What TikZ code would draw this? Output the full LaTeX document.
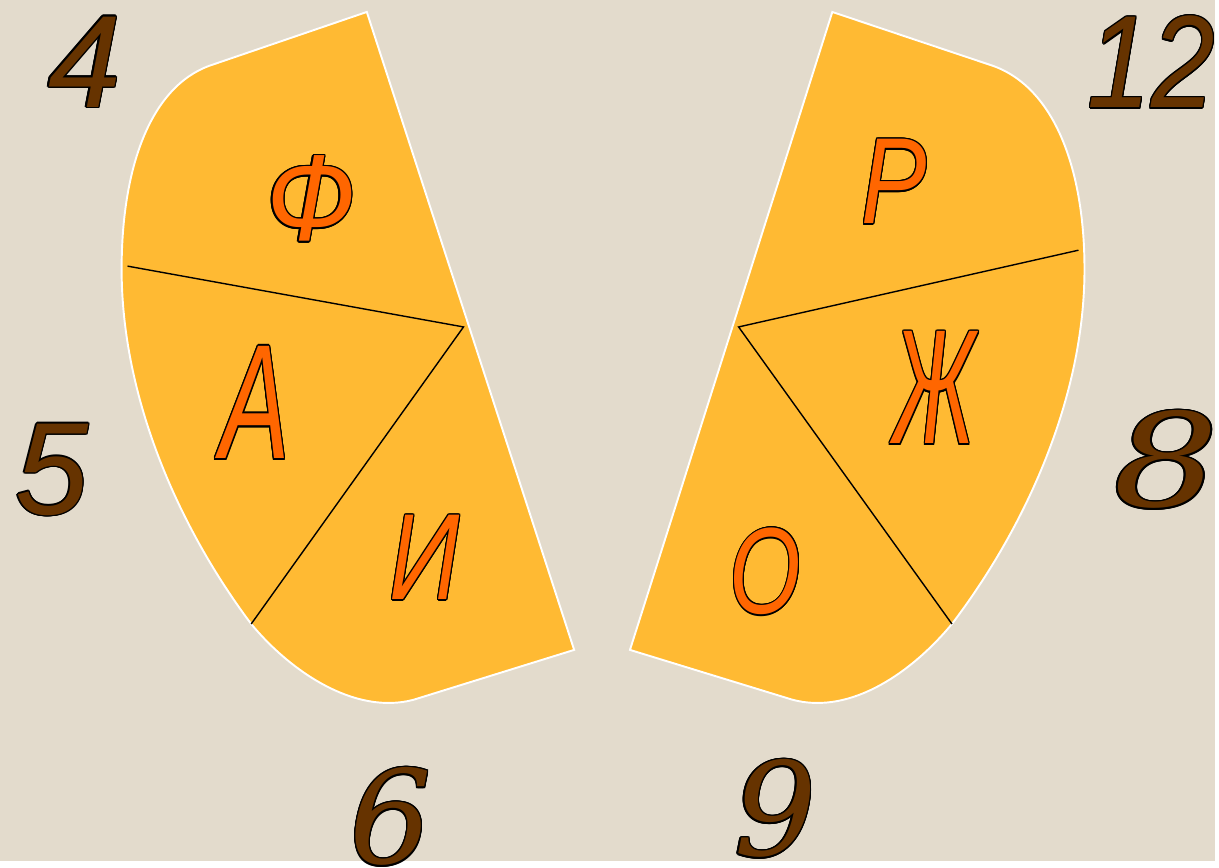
\documentclass[tikz,border=0pt]{standalone}
\usepackage{fontspec}
\usepackage{contour}
\newfontfamily\letterfont{Liberation Sans}
\newfontfamily\digitfont{DejaVu Serif}
\definecolor{paper}{HTML}{E3DBCC}
\definecolor{peel}{HTML}{FFBA33}
\definecolor{letterfill}{HTML}{FF6600}
\definecolor{digitfill}{HTML}{663300}
\contourlength{0.8pt}
\tikzset{
	piece/.style={fill=peel, draw=white, line width=1.1pt},
	cut/.style={draw=black, line width=0.8pt},
	letter/.style={inner sep=0pt, text=letterfill, font=\letterfont\itshape\fontsize{70}{70}\selectfont},
	sansnum/.style={inner sep=0pt, text=digitfill, font=\letterfont\itshape\fontsize{75}{75}\selectfont},
	serifnum/.style={inner sep=0pt, text=digitfill, font=\digitfont\itshape\fontsize{74}{74}\selectfont}
}

\begin{document}
\begin{tikzpicture}[x=0.02cm, y=-0.02cm]
		\fill[paper] (0,0) rectangle (1219,864);
		\path[piece] (368,12) -- (576,652) -- (415,702) .. controls (355,718) and (290,672) .. (252,626)
			.. controls (180,530) and (122,400) .. (122,270) .. controls (122,170) and (150,88) .. (210,66) -- cycle;
		\path[piece] (835,12) -- (632,652) -- (795,702) .. controls (855,718) and (917,672) .. (955,626)
			.. controls (1028,530) and (1088,400) .. (1088,270) .. controls (1088,170) and (1058,88) .. (996,66) -- cycle;
		\coordinate (hubL) at (465,328);
		\coordinate (hubR) at (741,328);
		\draw[cut] (128,267) -- (hubL) -- (252,626);
		\draw[cut] (1082,251) -- (hubR) -- (955,626);
		\node[letter] (ef) at (312,200) {\scalebox{0.92}[1]{\contour{black}{Ф}}};
		\node[letter] (a) at (256,405) {\scalebox{0.85}[1.33]{\contour{black}{А}}};
		\node[letter] (i) at (426,560) {\scalebox{0.8}[1]{\contour{black}{И}}};
		\node[letter] (er) at (897,183) {\scalebox{0.8}[1]{\contour{black}{Р}}};
		\node[letter] (zhe) at (937,390) {\scalebox{0.72}[1.33]{\contour{black}{Ж}}};
		\node[letter] (o) at (768,574) {\scalebox{0.75}[1]{\contour{black}{О}}};
		\node[sansnum] (four) at (85,63) {\contour{black}{4}};
		\node[sansnum] (twelve) at (1155,63) {\scalebox{0.87}[1]{\contour{black}{12}}};
		\node[sansnum] (five) at (52,472) {\contour{black}{5}};
		\node[serifnum] (eight) at (1170,462) {\scalebox{1.28}[1]{\contour{black}{8}}};
		\node[serifnum] (six) at (392,820) {\contour{black}{6}};
		\node[serifnum] (nine) at (778,812) {\contour{black}{9}};
	\end{tikzpicture}
\end{document}
